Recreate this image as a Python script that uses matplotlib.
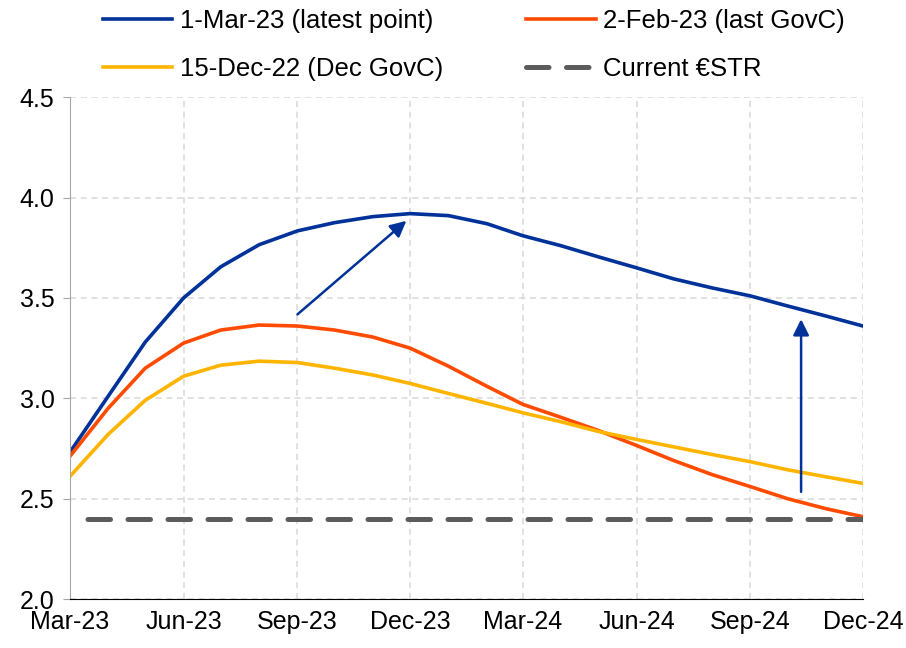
import numpy as np
import pandas as pd
import matplotlib
matplotlib.use("Agg")
import matplotlib.pyplot as plt
import matplotlib.dates as mdates
from matplotlib.lines import Line2D

plt.rcParams["font.family"] = ["Liberation Sans", "DejaVu Sans"]

# ── Data (monthly, Mar-23 .. Dec-24) ───────────────────
months = pd.date_range("2023-03-01", "2024-12-01", freq="MS")

latest_1mar23 = [2.73, 3.01, 3.28, 3.50, 3.655, 3.765, 3.834, 3.875, 3.905, 3.92, 3.91,
                 3.87, 3.81, 3.76, 3.705, 3.65, 3.595, 3.55, 3.51, 3.46, 3.41, 3.36]
govc_2feb23 = [2.71, 2.95, 3.15, 3.275, 3.34, 3.365, 3.36, 3.34, 3.305, 3.25, 3.16,
               3.06, 2.97, 2.905, 2.84, 2.765, 2.69, 2.62, 2.56, 2.50, 2.45, 2.41]
govc_15dec22 = [2.61, 2.82, 2.99, 3.11, 3.165, 3.185, 3.178, 3.15, 3.116, 3.074, 3.024,
                2.975, 2.928, 2.883, 2.835, 2.795, 2.758, 2.72, 2.684, 2.644, 2.609, 2.576]
current_estr = 2.40

labels = ["1-Mar-23 (latest point)", "2-Feb-23 (last GovC)",
          "15-Dec-22 (Dec GovC)", "Current €STR"]

# arrows: (start date, start y) -> (end date, end y)
arrow_shift = [("2023-09-01", 3.418, "2023-11-28", 3.884),
               ("2024-10-12", 2.534, "2024-10-12", 3.394)]

BLUE = "#003299"
ORANGE = "#FF4B00"
YELLOW = "#FFB400"
GREY = "#5C5C5C"

fig = plt.figure(figsize=(9.06, 6.48), dpi=100)
ax = fig.add_axes([0.077, 0.0756, 0.8755, 0.7744])

l1, = ax.plot(months, latest_1mar23, color=BLUE, lw=2.6, solid_joinstyle="round")
l2, = ax.plot(months, govc_2feb23, color=ORANGE, lw=2.6, solid_joinstyle="round")
l3, = ax.plot(months, govc_15dec22, color=YELLOW, lw=2.6, solid_joinstyle="round")
ax.plot(months, [current_estr] * len(months), color=GREY, lw=3.6,
        linestyle=(4.5, (4.5, 3.5)), dash_capstyle="round")
l4 = Line2D([], [], color=GREY, lw=3.6, linestyle=(0, (4.5, 3.5)),
            dash_capstyle="round")

for x0, y0, x1, y1 in arrow_shift:
    ax.annotate("", xy=(pd.Timestamp(x1), y1), xytext=(pd.Timestamp(x0), y0),
                arrowprops=dict(arrowstyle="-|>", color=BLUE, lw=1.8,
                                mutation_scale=24, shrinkA=0, shrinkB=0))

# ── Axes styling ───────────────────────────────────────
ax.set_xlim(months[0], months[-1])
ax.set_ylim(2.0, 4.5)
ax.set_yticks(np.arange(2.0, 4.51, 0.5))
ax.yaxis.set_major_formatter(matplotlib.ticker.FormatStrFormatter("%.1f"))
ax.xaxis.set_major_locator(mdates.MonthLocator(bymonth=[3, 6, 9, 12]))
ax.xaxis.set_major_formatter(mdates.DateFormatter("%b-%y"))

ax.grid(True, color="#D9D9D9", linestyle=(0, (4, 3)), lw=1.1)
ax.set_axisbelow(True)
for s in ["top", "right"]:
    ax.spines[s].set_visible(False)
ax.spines["left"].set_color("#A6A6A6")
ax.spines["bottom"].set_color("#000000")
ax.tick_params(axis="y", length=5, color="#A6A6A6", labelsize=18, pad=6)
ax.tick_params(axis="x", length=0, labelsize=18, pad=8)

# legend fills column-wise, so order handles to match the 2x2 layout
fig.legend([l1, l3, l2, l4], [labels[0], labels[2], labels[1], labels[3]],
           loc="upper center", bbox_to_anchor=(0.523, 1.022), ncol=2,
           frameon=False, fontsize=18.5, handlelength=2.7, handletextpad=0.3,
           columnspacing=3.25, labelspacing=0.93)

fig.savefig("out.png", dpi=100)
